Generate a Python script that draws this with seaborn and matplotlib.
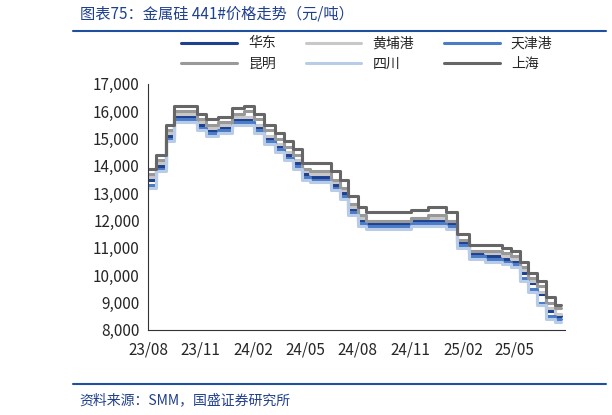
import matplotlib
matplotlib.use("Agg")
import matplotlib.pyplot as plt
import matplotlib.dates as mdates
import seaborn as sns
import pandas as pd

dates = ["2023-08-01", "2023-08-15", "2023-09-01", "2023-09-15", "2023-10-01", "2023-10-25",
         "2023-11-10", "2023-12-01", "2023-12-25", "2024-01-15", "2024-02-01", "2024-02-20",
         "2024-03-10", "2024-03-25", "2024-04-10", "2024-04-25", "2024-05-10", "2024-06-01",
         "2024-06-15", "2024-07-01", "2024-07-15", "2024-08-01", "2024-08-15", "2024-09-01",
         "2024-10-01", "2024-11-01", "2024-12-01", "2025-01-01", "2025-01-20", "2025-02-10",
         "2025-03-10", "2025-04-10", "2025-04-25", "2025-05-10", "2025-05-25", "2025-06-10",
         "2025-06-25", "2025-07-10", "2025-07-22"]

shanghai = [13900, 14400, 15500, 16200, 16200, 15900, 15700, 15800, 16100, 16200, 15900, 15500, 15200,
            14900, 14600, 14100, 14100, 14100, 13800, 13500, 12900, 12500, 12300, 12300, 12300, 12400,
            12500, 12300, 11500, 11100, 11100, 11000, 10900, 10500, 10100, 9800, 9200, 8900, 8900]
kunming = [13700, 14200, 15300, 16000, 16000, 15700, 15500, 15600, 15900, 16000, 15700, 15300, 15000,
           14700, 14400, 13900, 13800, 13800, 13500, 13200, 12600, 12200, 12000, 12000, 12000, 12100,
           12200, 12000, 11300, 10900, 10900, 10800, 10700, 10300, 9900, 9600, 9000, 8800, 8800]
huadong = [13500, 14000, 15100, 15800, 15800, 15500, 15300, 15400, 15700, 15700, 15400, 15000, 14700,
           14400, 14100, 13700, 13600, 13600, 13300, 13000, 12400, 12000, 11900, 11900, 11900, 12000,
           12000, 11900, 11200, 10800, 10700, 10600, 10500, 10100, 9700, 9300, 8700, 8500, 8500]
huangpu = [13600, 14100, 15200, 15900, 15900, 15600, 15400, 15500, 15800, 15800, 15500, 15100, 14800,
           14500, 14200, 13800, 13700, 13700, 13400, 13100, 12500, 12100, 12000, 12000, 12000, 12100,
           12100, 12000, 11300, 10900, 10800, 10700, 10600, 10200, 9800, 9400, 8800, 8600, 8600]
tianjin = [13300, 13900, 15000, 15700, 15700, 15400, 15200, 15300, 15600, 15600, 15300, 14900, 14600,
           14300, 14000, 13600, 13500, 13500, 13200, 12900, 12300, 11900, 11800, 11800, 11800, 11900,
           11900, 11800, 11100, 10700, 10600, 10500, 10400, 9900, 9500, 9000, 8500, 8400, 8400]
sichuan = [13200, 13800, 14900, 15600, 15600, 15300, 15100, 15200, 15500, 15500, 15200, 14800, 14500,
           14200, 13900, 13500, 13400, 13400, 13100, 12800, 12200, 11800, 11700, 11700, 11700, 11800,
           11800, 11700, 11000, 10600, 10500, 10400, 10300, 9800, 9400, 8900, 8400, 8300, 8300]

names = ["华东", "黄埔港", "天津港", "昆明", "四川", "上海"]
series = [huadong, huangpu, tianjin, kunming, sichuan, shanghai]
colors = ["#1f3f8f", "#c8c8c8", "#4a7cc7", "#999999", "#b8cce8", "#666666"]

rows = []
for n, vals in zip(names, series):
    for d, v in zip(dates, vals):
        rows.append({"date": pd.Timestamp(d), "price": v, "region": n})
df = pd.DataFrame(rows)

sns.set_style("white")
plt.rcParams["font.family"] = ["Noto Sans CJK SC", "DejaVu Sans"]

fig = plt.figure(figsize=(6.12, 4.15), dpi=100)
ax = fig.add_axes([0.242, 0.205, 0.681, 0.593])
sns.lineplot(data=df, x="date", y="price", hue="region", hue_order=names,
             palette=dict(zip(names, colors)), drawstyle="steps-post",
             linewidth=2.2, ax=ax, legend=True)

ax.set_ylim(8000, 17000)
ax.set_xlim(pd.Timestamp("2023-08-01"), pd.Timestamp("2025-07-28"))
ax.set_yticks(range(8000, 17001, 1000))
ax.yaxis.set_major_formatter(matplotlib.ticker.FuncFormatter(lambda v, p: f"{int(v):,}"))
ticks = pd.to_datetime(["2023-08-01", "2023-11-01", "2024-02-01", "2024-05-01",
                        "2024-08-01", "2024-11-01", "2025-02-01", "2025-05-01"])
ax.set_xticks(ticks)
ax.xaxis.set_major_formatter(mdates.DateFormatter("%y/%m"))
ax.tick_params(labelsize=11, length=0)
ax.tick_params(axis="x", pad=8)
ax.tick_params(axis="y", pad=6)
ax.set_xlabel("")
ax.set_ylabel("")
for s in ["top", "right"]:
    ax.spines[s].set_visible(False)
for s in ["left", "bottom"]:
    ax.spines[s].set_color("#333333")

# row-wise legend order
handles, labels = ax.get_legend_handles_labels()
lut = dict(zip(labels, handles))
order = ["华东", "昆明", "黄埔港", "四川", "天津港", "上海"]
ax.legend([lut[k] for k in order], order, loc="lower left",
          bbox_to_anchor=(0.05, 1.0, 0.95, 0.2), ncol=3, mode="expand",
          frameon=False, fontsize=10, handlelength=4)

fig.text(0.13, 0.955, "图表75：金属硅 441#价格走势（元/吨）", fontsize=11, style="italic",
         color="#1f3f8f")
fig.add_artist(plt.Line2D([0.12, 0.99], [0.925, 0.925], color="#1f4f9f", lw=1.5))
fig.add_artist(plt.Line2D([0.12, 0.99], [0.075, 0.075], color="#1f4f9f", lw=1.5))
fig.text(0.13, 0.025, "资料来源：SMM，国盛证券研究所", fontsize=10, style="italic", color="#1f3f8f")

fig.savefig("out.png", dpi=100)
